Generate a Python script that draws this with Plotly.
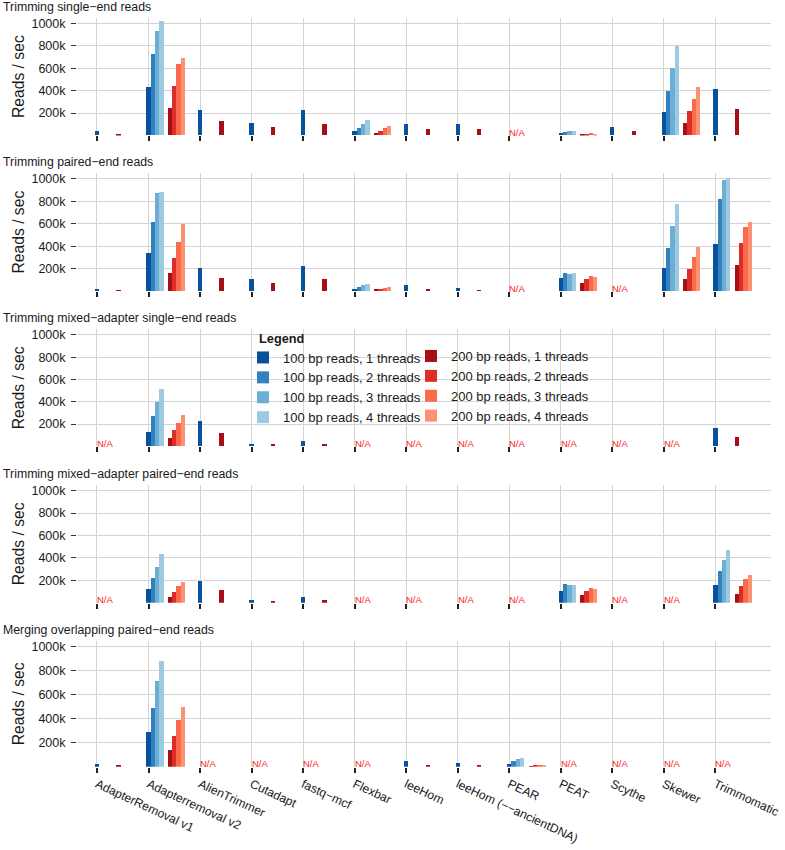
import plotly.graph_objects as go
from plotly.subplots import make_subplots

# ── Look ───────────────────────────────────────────────────────────────────────
FONT       = "Liberation Sans, Arial, sans-serif"
TEXT_COLOR = "#1a1a1a"
GRID_COLOR = "#d4d4d4"
NA_COLOR   = "#ff2020"
BLUES = ["#08519c", "#3182bd", "#6baed6", "#9ecae1"]   # 100 bp, 1..4 threads
REDS  = ["#a50f15", "#de2d26", "#fb6a4a", "#fc9272"]   # 200 bp, 1..4 threads

# ── Data (reads / sec, in thousands) ───────────────────────────────────────────
N = None
tools = ["AdapterRemoval v1", "Adapterremoval v2", "AlienTrimmer", "Cutadapt",
         "fastq\u2212mcf", "Flexbar", "leeHom", "leeHom (\u2212\u2212ancientDNA)",
         "PEAR", "PEAT", "Scythe", "Skewer", "Trimmomatic"]

panel_titles = ["Trimming single\u2212end reads",
                "Trimming paired\u2212end reads",
                "Trimming mixed\u2212adapter single\u2212end reads",
                "Trimming mixed\u2212adapter paired\u2212end reads",
                "Merging overlapping paired\u2212end reads"]

# one row per thread count (1, 2, 3, 4)
se_100 = [[42, 435, 227, 108, 227, 37, 99, 99, N, 19, 75, 209, 414],
          [N, 729, N, N, N, 69, N, N, N, 30, N, 399, N],
          [N, 938, N, N, N, 102, N, N, N, 39, N, 605, N],
          [N, 1024, N, N, N, 137, N, N, N, 36, N, 801, N]]
se_200 = [[15, 247, 129, 72, 102, 21, 57, 54, N, 6, 39, 111, 236],
          [N, 444, N, N, N, 39, N, N, N, 12, N, 215, N],
          [N, 637, N, N, N, 66, N, N, N, 18, N, 325, N],
          [N, 694, N, N, N, 81, N, N, N, 15, N, 432, N]]

pe_100 = [[18, 337, 203, 105, 221, 18, 48, 27, N, 110, N, 200, 418],
          [N, 617, N, N, N, 36, N, N, N, 161, N, 379, 821],
          [N, 871, N, N, N, 51, N, N, N, 152, N, 573, 984],
          [N, 877, N, N, N, 63, N, N, N, 161, N, 770, 1002]]
pe_200 = [[6, 155, 116, 69, 101, 9, 15, 6, N, 72, N, 105, 230],
          [N, 289, N, N, N, 15, N, N, N, 105, N, 194, 427],
          [N, 438, N, N, N, 27, N, N, N, 128, N, 302, 564],
          [N, 591, N, N, N, 33, N, N, N, 122, N, 391, 617]]

mixse_100 = [[N, 130, 221, 21, 45, N, N, N, N, N, N, N, 158],
             [N, 265, N, N, N, N, N, N, N, N, N, N, N],
             [N, 395, N, N, N, N, N, N, N, N, N, N, N],
             [N, 515, N, N, N, N, N, N, N, N, N, N, N]]
mixse_200 = [[N, 72, 120, 12, 20, N, N, N, N, N, N, N, 77],
             [N, 146, N, N, N, N, N, N, N, N, N, N, N],
             [N, 206, N, N, N, N, N, N, N, N, N, N, N],
             [N, 281, N, N, N, N, N, N, N, N, N, N, N]]

mixpe_100 = [[N, 120, 197, 27, 54, N, N, N, N, 107, N, N, 155],
             [N, 218, N, N, N, N, N, N, N, 164, N, N, 286],
             [N, 322, N, N, N, N, N, N, N, 155, N, N, 385],
             [N, 433, N, N, N, N, N, N, N, 155, N, N, 471]]
mixpe_200 = [[N, 48, 111, 12, 24, N, N, N, N, 69, N, N, 78],
             [N, 98, N, N, N, N, N, N, N, 105, N, N, 152],
             [N, 147, N, N, N, N, N, N, N, 129, N, N, 209],
             [N, 188, N, N, N, N, N, N, N, 120, N, N, 248]]

merge_100 = [[25, 292, N, N, N, N, 45, 35, 20, N, N, N, N],
             [N, 492, N, N, N, N, N, N, 45, N, N, N, N],
             [N, 714, N, N, N, N, N, N, 62, N, N, N, N],
             [N, 881, N, N, N, N, N, N, 70, N, N, N, N]]
merge_200 = [[8, 139, N, N, N, N, 15, 12, 5, N, N, N, N],
             [N, 258, N, N, N, N, N, N, 8, N, N, N, N],
             [N, 389, N, N, N, N, N, N, 10, N, N, N, N],
             [N, 495, N, N, N, N, N, N, 12, N, N, N, N]]

y_ticks = [200, 400, 600, 800, 1000]
y_tick_labels = ["200k", "400k", "600k", "800k", "1000k"]

panels = [(se_100, se_200), (pe_100, pe_200), (mixse_100, mixse_200),
          (mixpe_100, mixpe_200), (merge_100, merge_200)]

# ── Geometry (px in the 785 x 850 page) ────────────────────────────────────────
W, H = 785, 850


def px_x(px):
    return px / W


def px_y(px):
    return 1 - px / H


X_DOM = [px_x(77), px_x(771)]
PANEL_PX = [(18, 135.4), (173.3, 291), (329.3, 446.3), (485, 602.7), (641, 766.7)]
BAR_W = 0.0835
X_RANGE = [-0.388, 13.08]

fig = make_subplots(rows=5, cols=1)

for p, (blue, red) in enumerate(panels):
    row = p + 1
    for t in range(4):
        fig.add_trace(go.Bar(
            x=tools, y=blue[t], width=BAR_W, offset=(t - 0.5) * BAR_W,
            marker=dict(color=BLUES[t], line=dict(width=0)),
            name=f"100 bp reads, {t + 1} threads", legendgroup=f"b{t}",
            legend="legend", showlegend=(p == 0),
        ), row=row, col=1)
    for t in range(4):
        fig.add_trace(go.Bar(
            x=tools, y=red[t], width=BAR_W, offset=(t + 4.5) * BAR_W,
            marker=dict(color=REDS[t], line=dict(width=0)),
            name=f"200 bp reads, {t + 1} threads", legendgroup=f"r{t}",
            legend="legend2", showlegend=(p == 0),
        ), row=row, col=1)

    # tools with no measurement in this panel get an "N/A" label
    sfx = "" if p == 0 else str(p + 1)
    for i, tool in enumerate(tools):
        if all(s[i] is None for s in blue + red):
            fig.add_annotation(
                x=tool, y=0, xref="x" + sfx, yref="y" + sfx, text="N/A",
                xanchor="left", yanchor="middle", xshift=-2, yshift=3,
                showarrow=False, font=dict(color=NA_COLOR, size=9.5),
            )

axis_common = dict(showgrid=True, gridcolor=GRID_COLOR, gridwidth=1,
                   zeroline=False, showline=False, automargin=False)

for p, (top, bot) in enumerate(PANEL_PX):
    sfx = "" if p == 0 else str(p + 1)
    fig.layout["xaxis" + sfx].update(
        domain=X_DOM, type="category", categoryorder="array", categoryarray=tools,
        range=X_RANGE, ticks="outside", ticklen=5, tickwidth=1.5, tickcolor="#222",
        showticklabels=(p == 4), tickangle=25,
        tickfont=dict(size=12.2, color=TEXT_COLOR), **axis_common)
    fig.layout["yaxis" + sfx].update(
        domain=[px_y(bot), px_y(top)], range=[0, 1050],
        tickvals=y_ticks, ticktext=y_tick_labels,
        ticks="outside", ticklen=5, tickwidth=1.2, tickcolor="#333",
        ticklabelstandoff=3, tickfont=dict(size=12.5, color=TEXT_COLOR),
        title=dict(text="Reads / sec", font=dict(size=15.7, color=TEXT_COLOR), standoff=2),
        **axis_common)
    # panel title sits ~11 px above the panel
    fig.add_annotation(
        text=panel_titles[p], xref="paper", yref="paper", x=px_x(1), y=px_y(top - 11),
        xanchor="left", yanchor="middle", showarrow=False,
        font=dict(size=12.3, color=TEXT_COLOR),
    )

fig.update_layout(
    width=W, height=H,
    margin=dict(l=0, r=0, t=0, b=0),
    paper_bgcolor="white", plot_bgcolor="white",
    font=dict(family=FONT, color=TEXT_COLOR),
    barmode="overlay", bargap=0,
    legend=dict(
        title=dict(text="&nbsp;&nbsp;&nbsp;&nbsp;<b>Legend</b>", font=dict(size=12.7)),
        x=px_x(243), xanchor="left", y=px_y(326), yanchor="top",
        bgcolor="rgba(0,0,0,0)", font=dict(size=13), tracegroupgap=0,
    ),
    legend2=dict(
        x=px_x(411), xanchor="left", y=px_y(341), yanchor="top",
        bgcolor="rgba(0,0,0,0)", font=dict(size=13), tracegroupgap=0,
    ),
)

# drop the browser's default 8 px body margin so the figure fills the page
fig.write_html("out.html",
               config={"displayModeBar": False},
               post_script="document.body.style.margin='0';"
                           "document.body.style.overflow='hidden';")
